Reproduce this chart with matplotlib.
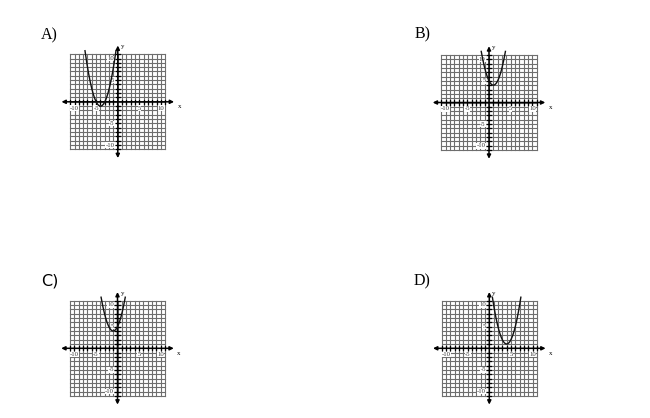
import numpy as np
import matplotlib
matplotlib.use("Agg")
import matplotlib.pyplot as plt

# ---- data ----
panel_labels = ["A)", "B)", "C)", "D)"]
vertex_x = [-4, 1, -1, 4]
vertex_y = [-1, 4, 4, 1]
lead_coef = [1, 1, 1, 1]
x_tick_values = [-10, -5, 5, 10]
x_tick_labels = ["-10", "-5", "5", "10"]
y_tick_values = [10, 5, -5, -10]
y_tick_labels = ["10", "5", "-5", "-10"]

W, H = 650, 418
fig = plt.figure(figsize=(W / 100, H / 100), dpi=100)
fig.patch.set_facecolor("white")

# layout (pixel positions of origins, pixels per unit)
origins = [(117.8, 101.8), (489.0, 102.5), (117.5, 348.3), (489.3, 348.3)]
label_pos = [(41, 35.5), (415, 34), (41, 281.5), (414, 281.5)]
label_fonts = ["Liberation Serif", "Liberation Serif", "DejaVu Sans", "Liberation Serif"]
ppu = 4.33
half = 14.0
grid_lim = 11
axis_lim = 13.0

for i in range(4):
    ox, oy = origins[i]
    size = 2 * half * ppu
    left = (ox - half * ppu) / W
    bottom = (H - oy - half * ppu) / H
    ax = fig.add_axes([left, bottom, size / W, size / H])
    ax.set_xlim(-half, half)
    ax.set_ylim(-half, half)
    ax.axis("off")

    # grid
    for g in range(-grid_lim, grid_lim + 1):
        ax.plot([g, g], [-grid_lim, grid_lim], color="#6e6e6e", lw=0.8, zorder=1)
        ax.plot([-grid_lim, grid_lim], [g, g], color="#6e6e6e", lw=0.8, zorder=1)

    # axes with arrows
    ax.annotate("", xy=(axis_lim, 0), xytext=(-axis_lim, 0),
                arrowprops=dict(arrowstyle="<|-|>", color="black", lw=1.1,
                                mutation_scale=5.5, shrinkA=0, shrinkB=0), zorder=3)
    ax.annotate("", xy=(0, axis_lim), xytext=(0, -axis_lim),
                arrowprops=dict(arrowstyle="<|-|>", color="black", lw=1.1,
                                mutation_scale=5.5, shrinkA=0, shrinkB=0), zorder=3)
    for t in range(-grid_lim, grid_lim + 1):
        if t == 0:
            continue
        ax.plot([t, t], [-0.5, 0.5], color="black", lw=0.9, zorder=3)
        ax.plot([-0.5, 0.5], [t, t], color="black", lw=0.9, zorder=3)

    # tick labels
    for v, s in zip(x_tick_values, x_tick_labels):
        ax.text(v, -0.9, s, ha="center", va="top", fontsize=4.8,
                family="Liberation Serif", zorder=4, color="#333333",
                bbox=dict(facecolor="white", edgecolor="none", pad=0.15))
    for v, s in zip(y_tick_values, y_tick_labels):
        ax.text(-0.8, v, s, ha="right", va="center", fontsize=4.8,
                family="Liberation Serif", zorder=4, color="#333333",
                bbox=dict(facecolor="white", edgecolor="none", pad=0.15))
    ax.text(axis_lim + 0.8, -0.6, "x", ha="left", va="top", fontsize=5,
            family="Liberation Serif")
    ax.text(0.7, axis_lim - 0.3, "y", ha="left", va="center", fontsize=5,
            family="Liberation Serif")

    # parabola
    a, h, k = lead_coef[i], vertex_x[i], vertex_y[i]
    top = 11.8
    hw = np.sqrt((top - k) / a)
    xs = np.linspace(h - hw, h + hw, 300)
    ax.plot(xs, a * (xs - h) ** 2 + k, color="#111111", lw=1.0, zorder=5)

    # panel label
    lx, ly = label_pos[i]
    fig.text(lx / W, 1 - ly / H, panel_labels[i], fontsize=11.5,
             family=label_fonts[i], ha="left", va="center")

fig.savefig("out.png", dpi=100)
